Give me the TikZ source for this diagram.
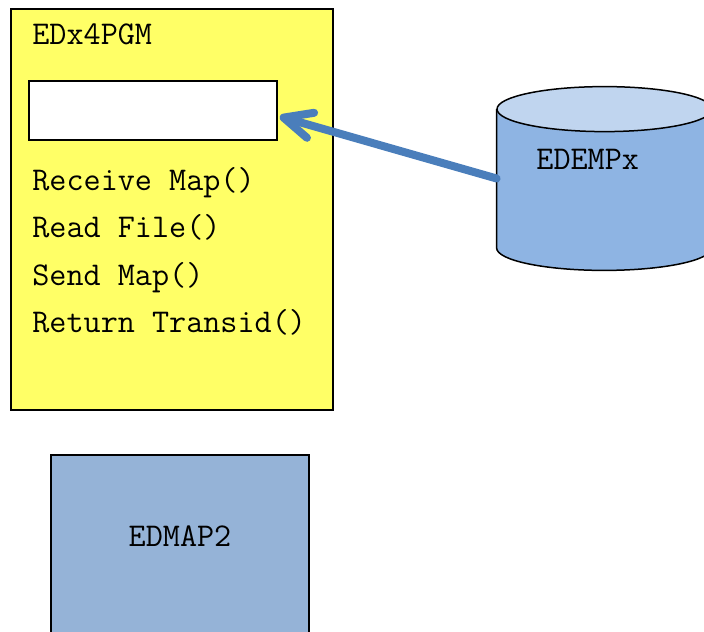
\documentclass[tikz,border=0pt]{standalone}
\usepackage{fontspec}
\usepackage{tikz}
\usetikzlibrary{arrows.meta,calc,positioning}
\definecolor{pgmyellow}{RGB}{255,255,102}
\definecolor{dbbody}{RGB}{142,180,227}
\definecolor{dbtop}{RGB}{192,213,239}
\definecolor{mapblue}{RGB}{149,179,215}
\definecolor{flowblue}{RGB}{74,126,187}
\tikzset{%
	program/.style  = {draw, line width=0.9pt, fill=pgmyellow, rectangle, inner sep=0pt, minimum width=161pt, minimum height=200.5pt},
	buffer/.style   = {draw, line width=0.75pt, fill=white, rectangle, inner sep=0pt, minimum width=124pt, minimum height=29.5pt},
	method/.style   = {anchor=base west, inner sep=0pt, font=\ttfamily\fontsize{16.6}{18}\selectfont},
	dbspace/.style  = {rectangle, inner sep=0pt, minimum width=107.5pt, minimum height=91.5pt},
	dbline/.style   = {draw=black, line width=0.75pt},
	mapset/.style   = {draw, line width=0.9pt, fill=mapblue, rectangle, inner sep=0pt, minimum width=129pt, minimum height=100pt},
	readflow/.style = {line width=4pt, draw=flowblue, line cap=round, -{Straight Barb[length=14pt,width=13pt,line width=4pt,round]}},
}
\begin{document}
\begin{tikzpicture}[x=0.5pt,y=-0.5pt]
	\useasboundingbox (0,0) rectangle (704,631);
	% program box with its working storage and calls
	\node[program] (pgm) at (172,209.5) {};
	\node[method] (pgmname) at (32,45) {EDx4PGM};
	\node[buffer] (record) at (153,110.5) {};
	\foreach \call [count=\i] in {Receive Map(),Read File(),Send Map(),Return Transid()}
		\node[method] (call\i) at (32,{190+47.6*(\i-1)}) {\call};
	% file on disk, drawn as a cylinder round the node
	\node[dbspace] (file) at (604.5,178.5) {};
	\filldraw[dbline, fill=dbbody] ($(file.north west)+(0,22.5)$) -- ($(file.south west)+(0,-22.5)$)
		arc[start angle=180, end angle=0, x radius=107.5, y radius=22.5] -- ($(file.north east)+(0,22.5)$);
	\filldraw[dbline, fill=dbtop] ($(file.north)+(0,22.5)$) ellipse[x radius=107.5, y radius=22.5];
	\node[method] (filename) at (536,169) {EDEMPx};
	\draw[readflow] (file.west) -- ($(record.east)+(2,6)$);
	% map set, runs off the bottom
	\node[mapset] (map) at (180,555) {};
	\node[method, anchor=base] (mapname) at (180,546) {EDMAP2};
\end{tikzpicture}
\end{document}
